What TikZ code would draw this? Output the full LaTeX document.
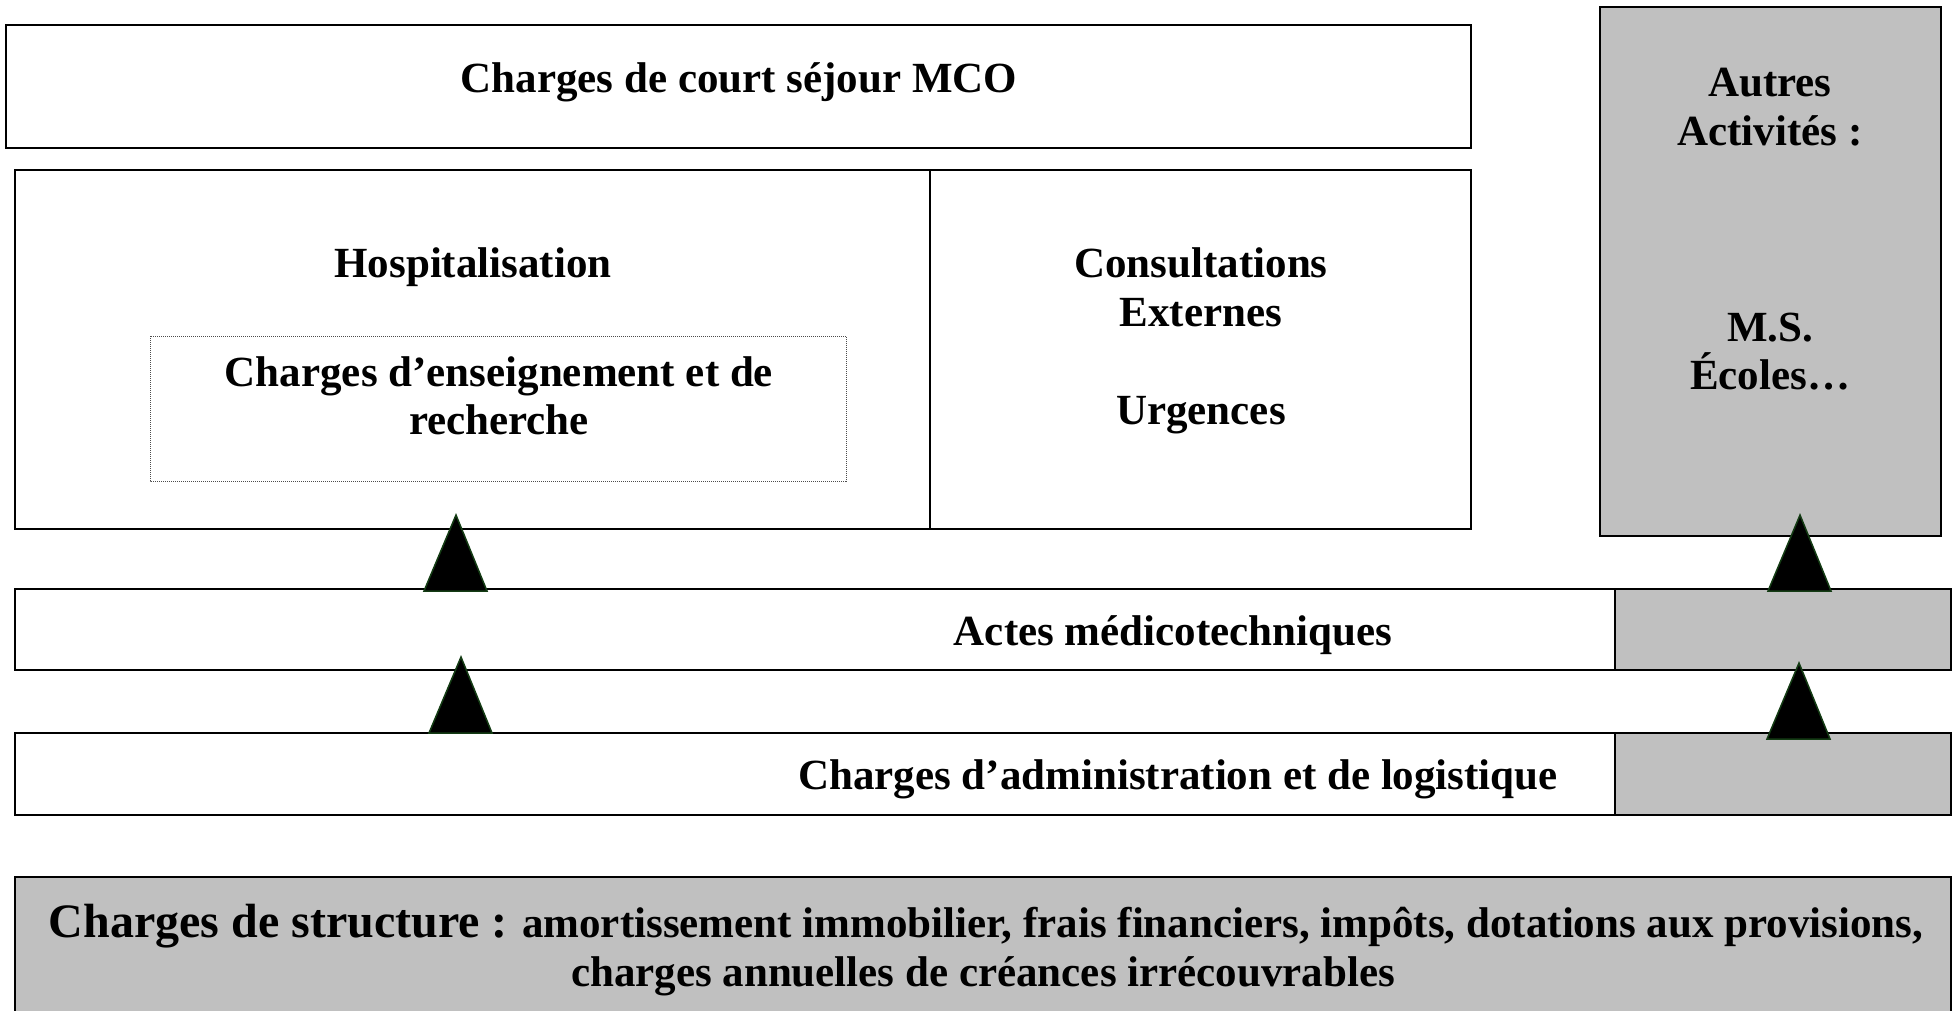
\documentclass[tikz,border=0pt]{standalone}
\usepackage{fontspec}
\setmainfont{Liberation Serif}
\definecolor{greyfill}{RGB}{192,192,192}
\definecolor{triedge}{RGB}{20,60,20}
\begin{document}
\begin{tikzpicture}[x=1pt,y=-1pt,
  box/.style={draw=black,line width=2pt},
  greybox/.style={draw=black,fill=greyfill,line width=2pt},
  dotbox/.style={draw=black!70,line width=1pt,dash pattern=on 1pt off 1pt},
  lbl/.style={font=\fontsize{43}{49}\selectfont\bfseries,anchor=base,inner sep=0pt},
  tri/.style={fill=black,draw=triedge,line width=1.5pt,line join=miter}]
\useasboundingbox (0,0) rectangle (1957,1010);
% structure box (bottom, cut by page edge)
\draw[greybox] (15,877) rectangle (1951,1030);
% top box
\draw[box] (6,25) rectangle (1471,148);
% hospitalisation / consultations
\draw[box] (15,170) rectangle (1471,529);
\draw[box] (930,170) -- (930,529);
\draw[dotbox] (150,336) rectangle (846,481);
% autres activites
\draw[greybox] (1600,7) rectangle (1941,536);
% actes medicotechniques
\draw[greybox] (1615,589) rectangle (1951,670);
\draw[box] (15,589) rectangle (1951,670);
% administration
\draw[greybox] (1615,733) rectangle (1951,815);
\draw[box] (15,733) rectangle (1951,815);
% triangles
\draw[tri] (424,591) -- (456,515) -- (487,591) -- cycle;
\draw[tri] (429,733) -- (461,657) -- (492,733) -- cycle;
\draw[tri] (1768,591) -- (1800,515) -- (1831,591) -- cycle;
\draw[tri] (1767,739) -- (1799,663) -- (1830,739) -- cycle;
% texts
\node[lbl] (mco) at (739,92) {Charges de court séjour MCO};
\node[lbl] (hosp) at (473,277) {Hospitalisation};
\node[lbl] (ens1) at (499,386) {Charges d’enseignement et de};
\node[lbl] (ens2) at (499,434) {recherche};
\node[lbl] (cons) at (1201,277) {Consultations};
\node[lbl] (ext) at (1201,326) {Externes};
\node[lbl] (urg) at (1201,424) {Urgences};
\node[lbl] (aut1) at (1770,96) {Autres};
\node[lbl] (aut2) at (1770,145) {Activités :};
\node[lbl] (ms) at (1770,341) {M.S.};
\node[lbl] (eco) at (1770,389) {Écoles…};
\node[lbl] (actes) at (1173,645) {Actes médicotechniques};
\node[lbl] (admin) at (1178,789) {Charges d’administration et de logistique};
\node[lbl] (struc1) at (986,937) {{\fontsize{48}{56}\selectfont Charges de structure :} amortissement immobilier, frais financiers, impôts, dotations aux provisions,};
\node[lbl] (struc2) at (983,986) {charges annuelles de créances irrécouvrables};
\end{tikzpicture}
\end{document}
